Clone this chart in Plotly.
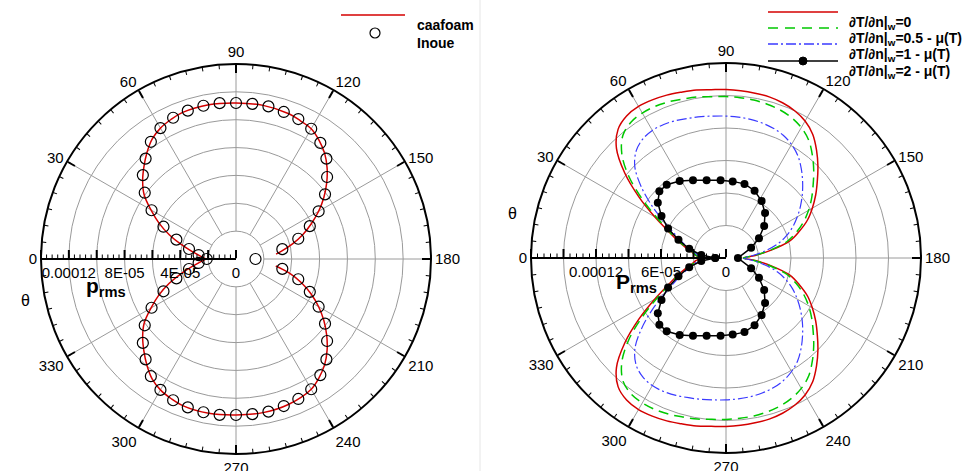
import plotly.graph_objects as go

W, H = 974, 471

# ---------------- left panel data (p_rms, units of 1E-05) ----------------
caa_theta = [190, 195, 200, 205, 210, 215, 220, 225, 230, 235, 240, 250, 260, 270, 280, 290, 295,
             300, 305, 310, 315, 320, 325, 330, 335, 340, 345, 350, 355, 360,
             365, 370, 375, 380, 385, 390, 395, 400, 405, 410, 415, 420, 425, 430, 440, 450, 460,
             470, 475, 480, 485, 490, 495, 500, 505, 510, 515, 520, 525, 530, 533]
caa_r = [2.9, 4.0, 5.0, 5.95, 6.85, 7.7, 8.5, 9.25, 9.9, 10.4, 10.8, 11.1, 11.2, 11.2, 11.25, 11.2, 11.05,
         10.85, 10.5, 9.95, 9.35, 8.75, 8.05, 7.05, 6.1, 5.1, 4.1, 3.25, 2.6, 2.2,
         2.6, 3.25, 4.1, 5.1, 6.1, 7.05, 8.05, 8.75, 9.35, 9.95, 10.5, 10.85, 11.05, 11.2, 11.25, 11.2, 11.2,
         11.1, 10.95, 10.8, 10.4, 9.9, 9.25, 8.5, 7.7, 6.85, 5.95, 5.1, 4.2, 3.35, 2.9]

inoue_theta = [0, 6, 12, 18, 24, 30, 36, 42, 48, 54, 60, 66, 72, 78, 84, 90, 96, 102, 108, 114,
               120, 126, 132, 138, 144, 150, 156, 162, 168, 180,
               192, 198, 204, 210, 216, 222, 228, 234, 240, 246, 252, 258, 264, 270, 276, 282, 288,
               294, 300, 306, 312, 318, 324, 330, 336, 342, 348, 354]
inoue_r = [2.1, 2.7, 3.45, 4.5, 5.7, 7.0, 8.1, 9.0, 9.7, 10.4, 10.85, 11.1, 11.2, 11.25, 11.25, 11.2,
           11.2, 11.2, 11.1, 11.0, 10.8, 10.3, 9.7, 8.8, 7.9, 6.85, 5.8, 4.7, 3.4, 1.4,
           3.4, 4.7, 5.8, 6.85, 7.9, 8.8, 9.7, 10.3, 10.8, 11.0, 11.1, 11.2, 11.2, 11.2, 11.25, 11.25,
           11.2, 11.1, 10.85, 10.4, 9.7, 9.0, 8.1, 7.0, 5.7, 4.5, 3.45, 2.7]

# ---------------- right panel data (P_rms, units of 1E-05) ----------------
th_r = [0, 5, 10, 15, 20, 25, 30, 35, 40, 45, 50, 55, 60, 65, 70, 75, 80, 85, 90,
        95, 100, 105, 110, 115, 120, 125, 130, 135, 140, 145, 150, 155, 160, 165, 170, 175, 180,
        185, 190, 195, 200, 205, 210, 215, 220, 225, 230, 235, 240, 245, 250, 255, 260, 265, 270,
        275, 280, 285, 290, 295, 300, 305, 310, 315, 320, 325, 330, 335, 340, 345, 350, 355, 360]
red_r = [2.4, 2.8, 3.2, 3.9, 4.8, 5.9, 7.6, 9.8, 12.2, 14.3, 15.5, 16.0, 16.15, 16.1, 16.0, 15.85, 15.75, 15.6, 15.55,
         15.5, 15.45, 15.4, 15.25, 15.0, 14.6, 13.95, 13.0, 12.0, 11.0, 10.1, 9.2, 8.3, 7.2, 6.1, 4.3, 2.7, 1.6,
         2.7, 4.3, 6.1, 7.2, 8.3, 9.2, 10.1, 11.0, 12.0, 13.0, 13.95, 14.6, 15.0, 15.25, 15.4, 15.45, 15.5, 15.55,
         15.6, 15.75, 15.85, 16.0, 16.1, 16.15, 16.0, 15.5, 14.3, 12.2, 9.8, 7.6, 5.9, 4.8, 3.9, 3.2, 2.8, 2.4]
green_r = [2.4, 2.75, 3.1, 3.8, 4.7, 5.75, 7.3, 9.4, 11.7, 13.6, 14.8, 15.3, 15.45, 15.45, 15.35, 15.2, 15.1, 14.95, 14.9,
           14.85, 14.8, 14.7, 14.55, 14.3, 13.9, 13.3, 12.4, 11.45, 10.5, 9.65, 8.8, 7.9, 6.9, 5.8, 4.1, 2.6, 1.6,
           2.6, 4.1, 5.8, 6.9, 7.9, 8.8, 9.65, 10.5, 11.45, 12.4, 13.3, 13.9, 14.3, 14.55, 14.7, 14.8, 14.85, 14.9,
           14.95, 15.1, 15.2, 15.35, 15.45, 15.45, 15.3, 14.8, 13.6, 11.7, 9.4, 7.3, 5.75, 4.7, 3.8, 3.1, 2.75, 2.4]
blue_r = [2.4, 2.6, 2.9, 3.5, 4.3, 5.2, 6.5, 8.3, 10.2, 11.9, 12.9, 13.4, 13.6, 13.6, 13.5, 13.35, 13.25, 13.15, 13.1,
          13.05, 13.0, 12.9, 12.75, 12.5, 12.1, 11.55, 10.8, 10.0, 9.2, 8.4, 7.6, 6.8, 5.9, 4.9, 3.6, 2.4, 1.6,
          2.4, 3.6, 4.9, 5.9, 6.8, 7.6, 8.4, 9.2, 10.0, 10.8, 11.55, 12.1, 12.5, 12.75, 12.9, 13.0, 13.05, 13.1,
          13.15, 13.25, 13.35, 13.5, 13.6, 13.6, 13.4, 12.9, 11.9, 10.2, 8.3, 6.5, 5.2, 4.3, 3.5, 2.9, 2.6, 2.4]

black_theta = [0, 7, 14, 21, 27, 33, 39, 45, 51, 59, 67, 76, 86, 95, 104, 113, 122, 131, 140, 149, 158, 180,
               202, 211, 220, 229, 238, 247, 256, 265, 274, 284, 293, 301, 309, 315, 321, 327, 333, 339, 346, 353, 360]
black_r = [1.0, 2.3, 3.5, 4.7, 6.0, 7.1, 8.1, 8.7, 8.7, 8.3, 7.8, 7.4, 7.2, 7.1, 7.05, 6.75, 6.2, 5.5, 4.6, 3.55,
           2.5, 1.1,
           2.5, 3.55, 4.6, 5.5, 6.2, 6.75, 7.05, 7.1, 7.2, 7.4, 7.8, 8.3, 8.7, 8.7, 8.1, 7.1, 6.0, 4.7, 3.5, 2.3, 1.0]

UNIT = 1e-5

# axis ticks / labels
ang_ticks = [0, 30, 60, 90, 120, 150, 180, 210, 240, 270, 300, 330]
left_major = [0, 2e-5, 4e-5, 6e-5, 8e-5, 10e-5, 12e-5, 14e-5]
left_lblv = [0, 4e-5, 8e-5, 12e-5]
left_lblt = ['0', '4E-05', '8E-05', '0.00012']
right_major = [0, 3e-5, 6e-5, 9e-5, 12e-5, 15e-5, 18e-5]
right_lblv = [0, 6e-5, 12e-5]
right_lblt = ['0', '6E-05', '0.00012']

FONT = 'Liberation Sans, Arial, sans-serif'
GRID = '#9a9a9a'
R_PX = 195.0  # plotted radius in pixels


def px(x):
    return x / W


def py(y):
    return 1 - y / H


def half_width(t):
    # approximate half width (px) of a 15px label, used to centre the
    # flipped radial tick labels on their tick
    w = 0.0
    for ch in t:
        w += {'.': 4.2, 'E': 10.0, '-': 5.0}.get(ch, 8.34)
    return w / 2


fig = go.Figure()


def spokes(subplot, rmin, rmax):
    th, rr = [], []
    for a in ang_ticks:
        th += [a, a, None]
        rr += [rmin, rmax, None]
    fig.add_trace(go.Scatterpolar(r=rr, theta=th, mode='lines', subplot=subplot,
                                  line=dict(color=GRID, width=1), hoverinfo='skip', showlegend=False))


spokes('polar', 2e-5, 14e-5)
spokes('polar2', 3e-5, 18e-5)

# left data
fig.add_trace(go.Scatterpolar(r=[v * UNIT for v in caa_r], theta=caa_theta, mode='lines', subplot='polar',
                              name='caafoam', line=dict(color='#d40000', width=1.5, shape='spline'),
                              showlegend=False))
fig.add_trace(go.Scatterpolar(r=[v * UNIT for v in inoue_r], theta=inoue_theta, mode='markers', subplot='polar',
                              name='Inoue', marker=dict(symbol='circle-open', size=11, color='black',
                                                        line=dict(width=1.2)), showlegend=False))
# right data
fig.add_trace(go.Scatterpolar(r=[v * UNIT for v in red_r], theta=th_r, mode='lines', subplot='polar2',
                              line=dict(color='#d40000', width=1.5, shape='spline'), showlegend=False))
fig.add_trace(go.Scatterpolar(r=[v * UNIT for v in green_r], theta=th_r, mode='lines', subplot='polar2',
                              line=dict(color='#00c800', width=1.5, dash='10px,6px', shape='spline'),
                              showlegend=False))
fig.add_trace(go.Scatterpolar(r=[v * UNIT for v in blue_r], theta=th_r, mode='lines', subplot='polar2',
                              line=dict(color='#3a3aff', width=1.2, dash='10px,3px,2px,3px', shape='spline'),
                              showlegend=False))
fig.add_trace(go.Scatterpolar(r=[v * UNIT for v in black_r], theta=black_theta,
                              mode='lines+markers', subplot='polar2',
                              line=dict(color='black', width=1.5), marker=dict(size=8, color='black'),
                              showlegend=False))

# invisible anchors for the overlay subplots (minor ticks / radial labels)
for sp in ['polar3', 'polar4', 'polar5', 'polar6']:
    fig.add_trace(go.Scatterpolar(r=[0], theta=[0], mode='markers', subplot=sp,
                                  marker=dict(opacity=0), hoverinfo='skip', showlegend=False))


def dom(d):
    x0, y0, x1, y1 = d
    return dict(x=[px(x0), px(x1)], y=[py(y1), py(y0)])


def polar_layout(d, rmax, rticks):
    return dict(
        domain=dom(d),
        bgcolor='white',
        angularaxis=dict(rotation=180, direction='clockwise', tickmode='array', tickvals=ang_ticks,
                         ticks='inside', ticklen=8, tickwidth=1.5, tickcolor='black',
                         showline=True, linecolor='black', linewidth=2, showgrid=False,
                         tickfont=dict(size=15, color='black', family=FONT)),
        radialaxis=dict(range=[0, rmax], angle=180, side='counterclockwise', tickmode='array',
                        tickvals=rticks, ticks='inside', ticklen=8, tickwidth=1.5,
                        tickcolor='black', showline=True, linecolor='black', linewidth=2,
                        showticklabels=False, showgrid=True, gridcolor=GRID, gridwidth=1),
    )


def minor_layout(d, rmax, rdt):
    return dict(
        domain=dom(d),
        bgcolor='rgba(0,0,0,0)',
        angularaxis=dict(rotation=180, direction='clockwise', tickmode='linear', tick0=0, dtick=5,
                         ticks='inside', ticklen=4, tickwidth=1, tickcolor='black',
                         showline=False, showgrid=False, showticklabels=False),
        radialaxis=dict(range=[0, rmax], angle=180, side='counterclockwise', tickmode='linear', tick0=0,
                        dtick=rdt, ticks='inside', ticklen=4, tickwidth=1, tickcolor='black',
                        showline=False, showgrid=False, showticklabels=False),
    )


def label_layout(d, rmax, vals, texts):
    per_px = rmax / R_PX
    shifted = [v + half_width(t) * per_px for v, t in zip(vals, texts)]
    return dict(
        domain=dom(d),
        bgcolor='rgba(0,0,0,0)',
        angularaxis=dict(rotation=180, direction='clockwise', ticks='', showline=False, showgrid=False,
                         showticklabels=False),
        radialaxis=dict(range=[0, rmax], angle=180, side='counterclockwise', tickmode='array',
                        tickvals=shifted, ticktext=texts, ticks='', tickangle=180, showline=False,
                        showgrid=False, tickfont=dict(size=15, color='black', family=FONT)),
    )


LDOM = (41, 64, 431, 454)
RDOM = (531, 63, 921, 453)

fig.update_layout(
    width=W, height=H, margin=dict(l=0, r=0, t=0, b=0),
    paper_bgcolor='white', plot_bgcolor='white',
    font=dict(family=FONT, color='black'),
    showlegend=False,
    polar=polar_layout(LDOM, 14e-5, left_major),
    polar2=polar_layout(RDOM, 18e-5, right_major),
    polar3=minor_layout(LDOM, 14e-5, 4e-6),
    polar4=minor_layout(RDOM, 18e-5, 6e-6),
    polar5=label_layout(LDOM, 14e-5, left_lblv, left_lblt),
    polar6=label_layout(RDOM, 18e-5, right_lblv, right_lblt),
)

annotations = []
shapes = []
# axis titles
annotations.append(dict(x=px(19), y=py(300), xref='paper', yref='paper', text='θ', showarrow=False,
                        font=dict(size=16, family=FONT)))
annotations.append(dict(x=px(512), y=py(213), xref='paper', yref='paper', text='θ', showarrow=False,
                        font=dict(size=16, family=FONT)))
annotations.append(dict(x=px(84), y=py(287), xref='paper', yref='paper', xanchor='left',
                        text='<b>p</b><sub><b>rms</b></sub>', showarrow=False, font=dict(size=21, family=FONT)))
annotations.append(dict(x=px(614), y=py(283), xref='paper', yref='paper', xanchor='left',
                        text='<b>P</b><sub><b>rms</b></sub>', showarrow=False, font=dict(size=21, family=FONT)))

# left legend
shapes.append(dict(type='line', xref='paper', yref='paper', x0=px(341), x1=px(405), y0=py(15), y1=py(15),
                   line=dict(color='#d40000', width=1.5)))
shapes.append(dict(type='circle', xref='paper', yref='paper', x0=px(370), x1=px(380), y0=py(38), y1=py(28),
                   line=dict(color='black', width=1.2)))
annotations.append(dict(x=px(415), y=py(15), xref='paper', yref='paper', xanchor='left', text='<b>caafoam</b>',
                        showarrow=False, font=dict(size=14, family=FONT)))
annotations.append(dict(x=px(415), y=py(33), xref='paper', yref='paper', xanchor='left', text='<b>Inoue</b>',
                        showarrow=False, font=dict(size=14, family=FONT)))

# right legend
leg_names = ['<b>∂T/∂n|<sub>w</sub>=0</b>', '<b>∂T/∂n|<sub>w</sub>=0.5 - μ(T)</b>',
             '<b>∂T/∂n|<sub>w</sub>=1 - μ(T)</b>', '<b>∂T/∂n|<sub>w</sub>=2 - μ(T)</b>']
leg_y = [12, 28, 44, 61]
leg_styles = [dict(color='#d40000', width=1.5), dict(color='#00c800', width=1.5, dash='10px,7px'),
              dict(color='#3a3aff', width=1.5, dash='10px,3px,2px,3px'), dict(color='black', width=1.5)]
for name, yy, st in zip(leg_names, leg_y, leg_styles):
    shapes.append(dict(type='line', xref='paper', yref='paper', x0=px(768), x1=px(838), y0=py(yy), y1=py(yy),
                       line=st))
    annotations.append(dict(x=px(847), y=py(yy), xref='paper', yref='paper', xanchor='left', text=name,
                            showarrow=False, font=dict(size=14, family=FONT)))
shapes.append(dict(type='circle', xref='paper', yref='paper', x0=px(799), x1=px(807), y0=py(65), y1=py(57),
                   fillcolor='black', line=dict(color='black', width=1)))

# faint divider
shapes.append(dict(type='line', xref='paper', yref='paper', x0=px(480), x1=px(480), y0=0, y1=1,
                   line=dict(color='#e6e6e6', width=1)))

fig.update_layout(annotations=annotations, shapes=shapes)
fig.write_html('out.html', config={'displayModeBar': False},
               post_script="document.body.style.margin='0px';")
